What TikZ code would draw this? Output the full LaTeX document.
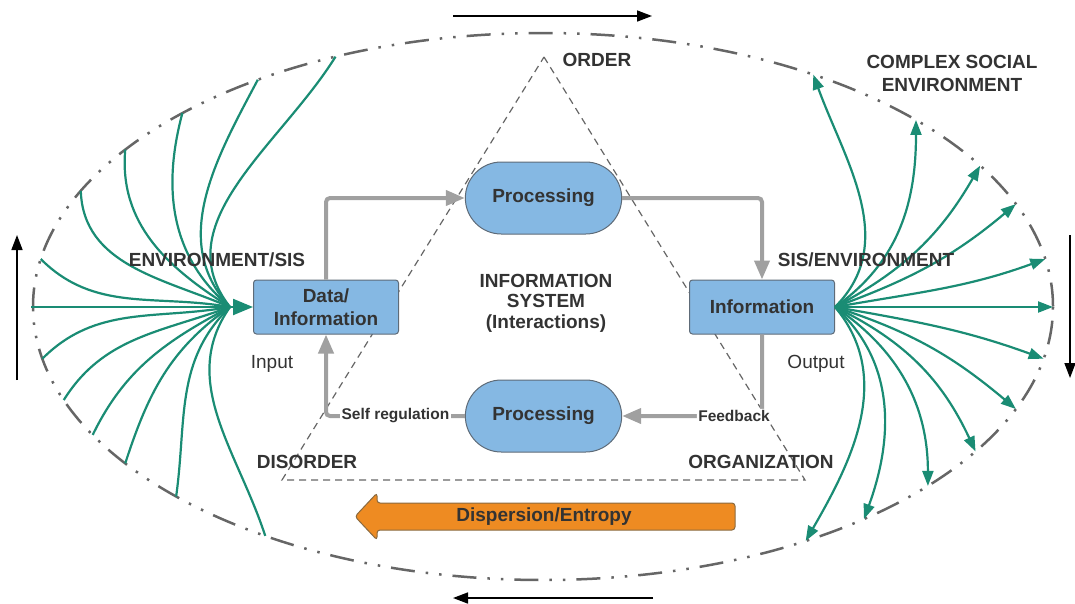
\documentclass[tikz,border=0pt]{standalone}
\usepackage{fontspec}
\setmainfont{Liberation Sans}
\usetikzlibrary{shapes.misc, arrows.meta, positioning}

\definecolor{boxblue}{HTML}{85B8E3}
\definecolor{boxline}{HTML}{5E6B78}
\definecolor{linkgray}{HTML}{A0A0A0}
\definecolor{flowgreen}{HTML}{1A8C74}
\definecolor{entropyfill}{HTML}{EE8B22}
\definecolor{entropyline}{HTML}{8A6A40}
\definecolor{ink}{HTML}{333333}
\definecolor{rim}{HTML}{666666}

\newcommand{\bigbold}{\fontsize{19}{23}\selectfont\bfseries}
\newcommand{\smallbold}{\fontsize{15.5}{18}\selectfont\bfseries}
\newcommand{\plainsize}{\fontsize{19}{23}\selectfont}

\begin{document}
\begin{tikzpicture}[x=1pt, y=1pt,
    every node/.style={text=ink},
    procbox/.style={rounded rectangle, draw=boxline, fill=boxblue, line width=1pt,
      minimum width=163pt, minimum height=72pt, font=\bigbold},
    databox/.style={rectangle, rounded corners=3pt, draw=boxline, fill=boxblue, line width=1pt,
      minimum width=145pt, minimum height=54pt, inner sep=0pt, align=center, font=\bigbold},
    link/.style={draw=linkgray, line width=4pt, rounded corners=4pt,
      -{Triangle[length=19pt,width=15pt]}},
    lbl/.style={fill=white, inner sep=1.5pt, font=\smallbold},
    flow/.style={draw=flowgreen, line width=2.2pt},
    flowtip/.style={flow, -{Triangle[length=15pt,width=11pt]}},
    envline/.style={draw=rim, line width=2.5pt,
      dash pattern=on 24pt off 11pt on 2.5pt off 11pt on 2.5pt off 11pt},
    tri/.style={draw=rim, line width=1.2pt, dash pattern=on 7pt off 5pt},
    flux/.style={draw=black, line width=1.6pt, -{Triangle[length=15pt,width=11pt]}},
    entropy/.style={draw=entropyline, fill=entropyfill, line width=1pt, rounded corners=3pt}
  ]
  \useasboundingbox (0,0) rectangle (1075,-603);

  % environment boundary
  \coordinate (ec) at (543,-306.5);
  \draw[envline] (ec) ellipse [x radius=510, y radius=273.5];

  % order / disorder / organization
  \coordinate (apex) at (544,-57);
  \coordinate (lcorner) at (282,-480);
  \coordinate (rcorner) at (805,-480);
  \draw[tri] (apex) -- (rcorner) -- (lcorner) -- cycle;

  % inflow from the environment
  \coordinate (wl) at (31,-307);
  \coordinate (cl) at (230,-307);
  \foreach \t/\o/\i in {114/-122/128, 124/-118/133, 135/-105/140, 145/-95/148, 155/-88/157, 170/-45/170,
                        191/45/-170, 200/58/-160, 208/64/-152, 215/72/-145, 224/82/-136, 237/108/-125}
    \draw[flow] ([shift={(ec)}]\t:510 and 273.5) to[out=\o, in=\i] (cl);

  \node[databox] (data) at (326,-307) {Data/\\Information};
  \node[databox] (info) at (762,-307) {Information};
  \draw[flow, -{Triangle[length=20pt,width=16pt]}] (wl) -- (data.west);

  % outflow to the environment
  \coordinate (el) at (1053,-307);
  \draw[flowtip] (info.east) -- (el);
  \foreach \t/\o/\i in {58/45/-70, 43/35/-90, 31/28/-120, 22/20/-140, 10/10/-160,
                        -11/-10/160, -22/-18/140, -32/-26/115, -41/-34/90, -51/-42/70, -59/-50/60}
    \draw[flowtip] (info.east) to[out=\o, in=\i] ([shift={(ec)}]\t:510 and 273.5);

  % processing loop
  \node[procbox] (proc1) at (543.5,-198) {Processing};
  \node[procbox] (proc2) at (543.5,-416) {Processing};
  \draw[link] (data.north) |- (proc1.west);
  \draw[link] (proc1.east) -| (info.north);
  \draw[link] (proc2.west) -| node[lbl, pos=0.25] {Self regulation} (data.south);
  \draw[link] (info.south) |- node[lbl, pos=0.6] {Feedback} (proc2.east);

  % labels
  \node[font=\bigbold] (order) at (597,-60) {ORDER};
  \node[font=\bigbold, align=center] (society) at (952,-73.5) {COMPLEX SOCIAL\\ENVIRONMENT};
  \node[font=\bigbold] (envsis) at (217,-260) {ENVIRONMENT/SIS};
  \node[font=\bigbold] (sisenv) at (866,-260) {SIS/ENVIRONMENT};
  \node[font=\fontsize{19}{20.5}\selectfont\bfseries, align=center] (system) at (546,-303)
    {INFORMATION\\SYSTEM\\(Interactions)};
  \node[font=\plainsize, anchor=base] (input) at (272,-368) {Input};
  \node[font=\plainsize, anchor=base] (output) at (816,-368) {Output};
  \node[font=\bigbold] (disorder) at (307,-462) {DISORDER};
  \node[font=\bigbold] (organization) at (761,-462) {ORGANIZATION};

  % dispersion arrow
  \draw[entropy] (735,-503) -- (377,-503) -- (377,-493) -- (355,-516.5)
    -- (377,-540) -- (377,-530) -- (735,-530) -- cycle;
  \node[font=\bigbold] (entropy) at (544,-516.5) {Dispersion/Entropy};

  % direction of circulation
  \coordinate (tl) at (453,-16);   \coordinate (tr) at (652,-16);
  \coordinate (bl) at (453,-598);  \coordinate (br) at (653,-598);
  \coordinate (lb) at (17,-380);   \coordinate (lt) at (17,-235);
  \coordinate (rt) at (1070,-235); \coordinate (rb) at (1070,-378);
  \draw[flux] (tl) -- (tr);
  \draw[flux] (br) -- (bl);
  \draw[flux] (lb) -- (lt);
  \draw[flux] (rt) -- (rb);
\end{tikzpicture}
\end{document}
